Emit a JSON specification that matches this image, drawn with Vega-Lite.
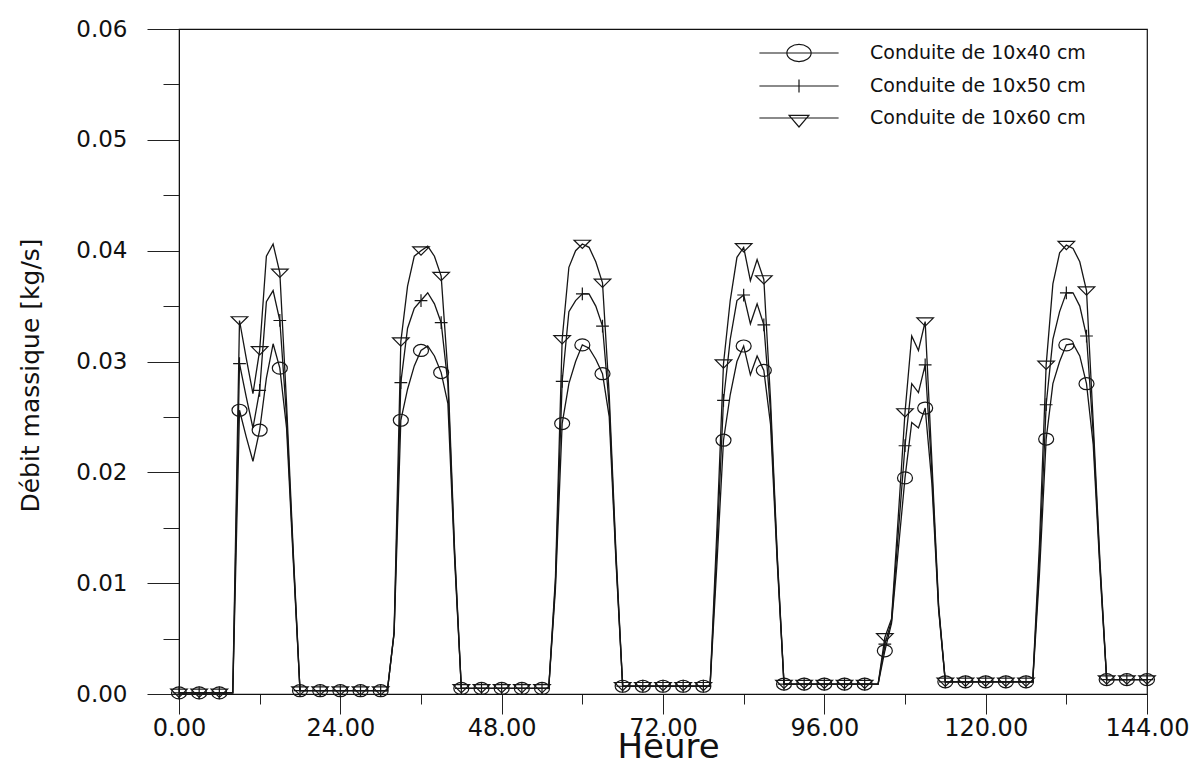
{
  "$schema": "https://vega.github.io/schema/vega-lite/v6.json",
  "width": 968,
  "height": 665,
  "autosize": "none",
  "padding": {"left": 179, "top": 29, "right": 55, "bottom": 71},
  "background": "white",
  "config": {
    "view": {"stroke": "#111", "strokeWidth": 1.2},
    "font": "DejaVu Sans",
    "axis": {"grid": false, "domainColor": "#111", "tickColor": "#222", "labelColor": "#111", "titleColor": "#111", "titleFontWeight": "normal", "labelFont": "DejaVu Sans", "titleFont": "DejaVu Sans", "labelFlush": false, "labelOverlap": false}
  },
  "data": {
    "values": [
      {"h": 0, "Conduite de 10x40 cm": 0.0001, "Conduite de 10x50 cm": 0.0001, "Conduite de 10x60 cm": 0.0001},
      {"h": 3, "Conduite de 10x40 cm": 0.0001, "Conduite de 10x50 cm": 0.0001, "Conduite de 10x60 cm": 0.0001},
      {"h": 6, "Conduite de 10x40 cm": 0.0001, "Conduite de 10x50 cm": 0.0001, "Conduite de 10x60 cm": 0.0001},
      {"h": 8, "Conduite de 10x40 cm": 0.0001, "Conduite de 10x50 cm": 0.0001, "Conduite de 10x60 cm": 0.0001},
      {"h": 9, "Conduite de 10x40 cm": 0.0256, "Conduite de 10x50 cm": 0.0298, "Conduite de 10x60 cm": 0.0337},
      {"h": 10, "Conduite de 10x40 cm": 0.0232, "Conduite de 10x50 cm": 0.0268, "Conduite de 10x60 cm": 0.0303},
      {"h": 11, "Conduite de 10x40 cm": 0.0210, "Conduite de 10x50 cm": 0.0240, "Conduite de 10x60 cm": 0.0271},
      {"h": 12, "Conduite de 10x40 cm": 0.0238, "Conduite de 10x50 cm": 0.0274, "Conduite de 10x60 cm": 0.0310},
      {"h": 13, "Conduite de 10x40 cm": 0.0285, "Conduite de 10x50 cm": 0.0354, "Conduite de 10x60 cm": 0.0395},
      {"h": 14, "Conduite de 10x40 cm": 0.0316, "Conduite de 10x50 cm": 0.0364, "Conduite de 10x60 cm": 0.0406},
      {"h": 15, "Conduite de 10x40 cm": 0.0294, "Conduite de 10x50 cm": 0.0337, "Conduite de 10x60 cm": 0.0380},
      {"h": 16, "Conduite de 10x40 cm": 0.0240, "Conduite de 10x50 cm": 0.0250, "Conduite de 10x60 cm": 0.0262},
      {"h": 17, "Conduite de 10x40 cm": 0.0120, "Conduite de 10x50 cm": 0.0124, "Conduite de 10x60 cm": 0.0128},
      {"h": 18, "Conduite de 10x40 cm": 0.0003, "Conduite de 10x50 cm": 0.0003, "Conduite de 10x60 cm": 0.0003},
      {"h": 21, "Conduite de 10x40 cm": 0.0003, "Conduite de 10x50 cm": 0.0003, "Conduite de 10x60 cm": 0.0003},
      {"h": 24, "Conduite de 10x40 cm": 0.0003, "Conduite de 10x50 cm": 0.0003, "Conduite de 10x60 cm": 0.0003},
      {"h": 27, "Conduite de 10x40 cm": 0.0003, "Conduite de 10x50 cm": 0.0003, "Conduite de 10x60 cm": 0.0003},
      {"h": 30, "Conduite de 10x40 cm": 0.0003, "Conduite de 10x50 cm": 0.0003, "Conduite de 10x60 cm": 0.0003},
      {"h": 31, "Conduite de 10x40 cm": 0.0003, "Conduite de 10x50 cm": 0.0003, "Conduite de 10x60 cm": 0.0003},
      {"h": 32, "Conduite de 10x40 cm": 0.0055, "Conduite de 10x50 cm": 0.0055, "Conduite de 10x60 cm": 0.0056},
      {"h": 33, "Conduite de 10x40 cm": 0.0247, "Conduite de 10x50 cm": 0.0281, "Conduite de 10x60 cm": 0.0318},
      {"h": 34, "Conduite de 10x40 cm": 0.0275, "Conduite de 10x50 cm": 0.0330, "Conduite de 10x60 cm": 0.0368},
      {"h": 35, "Conduite de 10x40 cm": 0.0296, "Conduite de 10x50 cm": 0.0348, "Conduite de 10x60 cm": 0.0395},
      {"h": 36, "Conduite de 10x40 cm": 0.0310, "Conduite de 10x50 cm": 0.0355, "Conduite de 10x60 cm": 0.0400},
      {"h": 37, "Conduite de 10x40 cm": 0.0314, "Conduite de 10x50 cm": 0.0362, "Conduite de 10x60 cm": 0.0404},
      {"h": 38, "Conduite de 10x40 cm": 0.0305, "Conduite de 10x50 cm": 0.0352, "Conduite de 10x60 cm": 0.0395},
      {"h": 39, "Conduite de 10x40 cm": 0.0290, "Conduite de 10x50 cm": 0.0335, "Conduite de 10x60 cm": 0.0377},
      {"h": 40, "Conduite de 10x40 cm": 0.0262, "Conduite de 10x50 cm": 0.0280, "Conduite de 10x60 cm": 0.0290},
      {"h": 41, "Conduite de 10x40 cm": 0.0122, "Conduite de 10x50 cm": 0.0126, "Conduite de 10x60 cm": 0.0130},
      {"h": 42, "Conduite de 10x40 cm": 0.0005, "Conduite de 10x50 cm": 0.0005, "Conduite de 10x60 cm": 0.0005},
      {"h": 45, "Conduite de 10x40 cm": 0.0005, "Conduite de 10x50 cm": 0.0005, "Conduite de 10x60 cm": 0.0005},
      {"h": 48, "Conduite de 10x40 cm": 0.0005, "Conduite de 10x50 cm": 0.0005, "Conduite de 10x60 cm": 0.0005},
      {"h": 51, "Conduite de 10x40 cm": 0.0005, "Conduite de 10x50 cm": 0.0005, "Conduite de 10x60 cm": 0.0005},
      {"h": 54, "Conduite de 10x40 cm": 0.0005, "Conduite de 10x50 cm": 0.0005, "Conduite de 10x60 cm": 0.0005},
      {"h": 55, "Conduite de 10x40 cm": 0.0005, "Conduite de 10x50 cm": 0.0005, "Conduite de 10x60 cm": 0.0005},
      {"h": 56, "Conduite de 10x40 cm": 0.0095, "Conduite de 10x50 cm": 0.0100, "Conduite de 10x60 cm": 0.0105},
      {"h": 57, "Conduite de 10x40 cm": 0.0244, "Conduite de 10x50 cm": 0.0282, "Conduite de 10x60 cm": 0.0320},
      {"h": 58, "Conduite de 10x40 cm": 0.0280, "Conduite de 10x50 cm": 0.0345, "Conduite de 10x60 cm": 0.0385},
      {"h": 59, "Conduite de 10x40 cm": 0.0300, "Conduite de 10x50 cm": 0.0355, "Conduite de 10x60 cm": 0.0400},
      {"h": 60, "Conduite de 10x40 cm": 0.0315, "Conduite de 10x50 cm": 0.0361, "Conduite de 10x60 cm": 0.0406},
      {"h": 61, "Conduite de 10x40 cm": 0.0312, "Conduite de 10x50 cm": 0.0361, "Conduite de 10x60 cm": 0.0403},
      {"h": 62, "Conduite de 10x40 cm": 0.0302, "Conduite de 10x50 cm": 0.0350, "Conduite de 10x60 cm": 0.0390},
      {"h": 63, "Conduite de 10x40 cm": 0.0289, "Conduite de 10x50 cm": 0.0332, "Conduite de 10x60 cm": 0.0371},
      {"h": 64, "Conduite de 10x40 cm": 0.0250, "Conduite de 10x50 cm": 0.0260, "Conduite de 10x60 cm": 0.0270},
      {"h": 65, "Conduite de 10x40 cm": 0.0120, "Conduite de 10x50 cm": 0.0124, "Conduite de 10x60 cm": 0.0128},
      {"h": 66, "Conduite de 10x40 cm": 0.0007, "Conduite de 10x50 cm": 0.0007, "Conduite de 10x60 cm": 0.0007},
      {"h": 69, "Conduite de 10x40 cm": 0.0007, "Conduite de 10x50 cm": 0.0007, "Conduite de 10x60 cm": 0.0007},
      {"h": 72, "Conduite de 10x40 cm": 0.0007, "Conduite de 10x50 cm": 0.0007, "Conduite de 10x60 cm": 0.0007},
      {"h": 75, "Conduite de 10x40 cm": 0.0007, "Conduite de 10x50 cm": 0.0007, "Conduite de 10x60 cm": 0.0007},
      {"h": 78, "Conduite de 10x40 cm": 0.0007, "Conduite de 10x50 cm": 0.0007, "Conduite de 10x60 cm": 0.0007},
      {"h": 79, "Conduite de 10x40 cm": 0.0007, "Conduite de 10x50 cm": 0.0007, "Conduite de 10x60 cm": 0.0007},
      {"h": 80, "Conduite de 10x40 cm": 0.0115, "Conduite de 10x50 cm": 0.0130, "Conduite de 10x60 cm": 0.0145},
      {"h": 81, "Conduite de 10x40 cm": 0.0229, "Conduite de 10x50 cm": 0.0265, "Conduite de 10x60 cm": 0.0298},
      {"h": 82, "Conduite de 10x40 cm": 0.0270, "Conduite de 10x50 cm": 0.0320, "Conduite de 10x60 cm": 0.0355},
      {"h": 83, "Conduite de 10x40 cm": 0.0300, "Conduite de 10x50 cm": 0.0355, "Conduite de 10x60 cm": 0.0394},
      {"h": 84, "Conduite de 10x40 cm": 0.0314, "Conduite de 10x50 cm": 0.0360, "Conduite de 10x60 cm": 0.0403},
      {"h": 85, "Conduite de 10x40 cm": 0.0288, "Conduite de 10x50 cm": 0.0334, "Conduite de 10x60 cm": 0.0373},
      {"h": 86, "Conduite de 10x40 cm": 0.0305, "Conduite de 10x50 cm": 0.0352, "Conduite de 10x60 cm": 0.0392},
      {"h": 87, "Conduite de 10x40 cm": 0.0292, "Conduite de 10x50 cm": 0.0333, "Conduite de 10x60 cm": 0.0374},
      {"h": 88, "Conduite de 10x40 cm": 0.0243, "Conduite de 10x50 cm": 0.0255, "Conduite de 10x60 cm": 0.0265},
      {"h": 89, "Conduite de 10x40 cm": 0.0118, "Conduite de 10x50 cm": 0.0122, "Conduite de 10x60 cm": 0.0125},
      {"h": 90, "Conduite de 10x40 cm": 0.0009, "Conduite de 10x50 cm": 0.0009, "Conduite de 10x60 cm": 0.0009},
      {"h": 93, "Conduite de 10x40 cm": 0.0009, "Conduite de 10x50 cm": 0.0009, "Conduite de 10x60 cm": 0.0009},
      {"h": 96, "Conduite de 10x40 cm": 0.0009, "Conduite de 10x50 cm": 0.0009, "Conduite de 10x60 cm": 0.0009},
      {"h": 99, "Conduite de 10x40 cm": 0.0009, "Conduite de 10x50 cm": 0.0009, "Conduite de 10x60 cm": 0.0009},
      {"h": 102, "Conduite de 10x40 cm": 0.0009, "Conduite de 10x50 cm": 0.0009, "Conduite de 10x60 cm": 0.0009},
      {"h": 104, "Conduite de 10x40 cm": 0.0009, "Conduite de 10x50 cm": 0.0009, "Conduite de 10x60 cm": 0.0009},
      {"h": 105, "Conduite de 10x40 cm": 0.0039, "Conduite de 10x50 cm": 0.0045, "Conduite de 10x60 cm": 0.0051},
      {"h": 106, "Conduite de 10x40 cm": 0.0064, "Conduite de 10x50 cm": 0.0066, "Conduite de 10x60 cm": 0.0068},
      {"h": 107, "Conduite de 10x40 cm": 0.0130, "Conduite de 10x50 cm": 0.0145, "Conduite de 10x60 cm": 0.0160},
      {"h": 108, "Conduite de 10x40 cm": 0.0195, "Conduite de 10x50 cm": 0.0224, "Conduite de 10x60 cm": 0.0254},
      {"h": 109, "Conduite de 10x40 cm": 0.0245, "Conduite de 10x50 cm": 0.0280, "Conduite de 10x60 cm": 0.0323},
      {"h": 110, "Conduite de 10x40 cm": 0.0240, "Conduite de 10x50 cm": 0.0272, "Conduite de 10x60 cm": 0.0310},
      {"h": 111, "Conduite de 10x40 cm": 0.0258, "Conduite de 10x50 cm": 0.0297, "Conduite de 10x60 cm": 0.0336},
      {"h": 112, "Conduite de 10x40 cm": 0.0190, "Conduite de 10x50 cm": 0.0200, "Conduite de 10x60 cm": 0.0210},
      {"h": 113, "Conduite de 10x40 cm": 0.0076, "Conduite de 10x50 cm": 0.0078, "Conduite de 10x60 cm": 0.0080},
      {"h": 114, "Conduite de 10x40 cm": 0.0011, "Conduite de 10x50 cm": 0.0011, "Conduite de 10x60 cm": 0.0011},
      {"h": 117, "Conduite de 10x40 cm": 0.0011, "Conduite de 10x50 cm": 0.0011, "Conduite de 10x60 cm": 0.0011},
      {"h": 120, "Conduite de 10x40 cm": 0.0011, "Conduite de 10x50 cm": 0.0011, "Conduite de 10x60 cm": 0.0011},
      {"h": 123, "Conduite de 10x40 cm": 0.0011, "Conduite de 10x50 cm": 0.0011, "Conduite de 10x60 cm": 0.0011},
      {"h": 126, "Conduite de 10x40 cm": 0.0011, "Conduite de 10x50 cm": 0.0011, "Conduite de 10x60 cm": 0.0011},
      {"h": 127, "Conduite de 10x40 cm": 0.0011, "Conduite de 10x50 cm": 0.0011, "Conduite de 10x60 cm": 0.0011},
      {"h": 128, "Conduite de 10x40 cm": 0.0108, "Conduite de 10x50 cm": 0.0120, "Conduite de 10x60 cm": 0.0135},
      {"h": 129, "Conduite de 10x40 cm": 0.0230, "Conduite de 10x50 cm": 0.0261, "Conduite de 10x60 cm": 0.0297},
      {"h": 130, "Conduite de 10x40 cm": 0.0280, "Conduite de 10x50 cm": 0.0320, "Conduite de 10x60 cm": 0.0370},
      {"h": 131, "Conduite de 10x40 cm": 0.0300, "Conduite de 10x50 cm": 0.0345, "Conduite de 10x60 cm": 0.0398},
      {"h": 132, "Conduite de 10x40 cm": 0.0315, "Conduite de 10x50 cm": 0.0362, "Conduite de 10x60 cm": 0.0405},
      {"h": 133, "Conduite de 10x40 cm": 0.0316, "Conduite de 10x50 cm": 0.0362, "Conduite de 10x60 cm": 0.0402},
      {"h": 134, "Conduite de 10x40 cm": 0.0305, "Conduite de 10x50 cm": 0.0350, "Conduite de 10x60 cm": 0.0390},
      {"h": 135, "Conduite de 10x40 cm": 0.0280, "Conduite de 10x50 cm": 0.0323, "Conduite de 10x60 cm": 0.0364},
      {"h": 136, "Conduite de 10x40 cm": 0.0225, "Conduite de 10x50 cm": 0.0235, "Conduite de 10x60 cm": 0.0245},
      {"h": 137, "Conduite de 10x40 cm": 0.0112, "Conduite de 10x50 cm": 0.0116, "Conduite de 10x60 cm": 0.0120},
      {"h": 138, "Conduite de 10x40 cm": 0.0013, "Conduite de 10x50 cm": 0.0013, "Conduite de 10x60 cm": 0.0013},
      {"h": 141, "Conduite de 10x40 cm": 0.0013, "Conduite de 10x50 cm": 0.0013, "Conduite de 10x60 cm": 0.0013},
      {"h": 144, "Conduite de 10x40 cm": 0.0013, "Conduite de 10x50 cm": 0.0013, "Conduite de 10x60 cm": 0.0013}
    ]
  },
  "transform": [
    {"fold": ["Conduite de 10x40 cm", "Conduite de 10x50 cm", "Conduite de 10x60 cm"], "as": ["serie", "v"]}
  ],
  "encoding": {
    "x": {
      "field": "h",
      "type": "quantitative",
      "scale": {"domain": [0, 144], "nice": false, "zero": false},
      "axis": {
        "values": [0, 12, 24, 36, 48, 60, 72, 84, 96, 108, 120, 132, 144],
        "labelExpr": "datum.value % 24 == 0 ? format(datum.value, '.2f') : ''",
        "tickSize": {"expr": "datum.value % 24 == 0 ? 20 : 10"},
        "labelPadding": 2,
        "labelFontSize": 24,
        "title": "Heure",
        "titleFontSize": 34,
        "titleX": 489,
        "titleY": 63,
        "titleAlign": "center",
        "titleBaseline": "alphabetic"
      }
    },
    "y": {
      "field": "v",
      "type": "quantitative",
      "scale": {"domain": [0, 0.06], "nice": false},
      "axis": {
        "values": [0, 0.005, 0.01, 0.015, 0.02, 0.025, 0.03, 0.035, 0.04, 0.045, 0.05, 0.055, 0.06],
        "labelExpr": "round(datum.value * 200) % 2 == 0 ? format(datum.value, '.2f') : ''",
        "tickSize": {"expr": "round(datum.value * 200) % 2 == 0 ? 32 : 16"},
        "labelPadding": 20,
        "labelFontSize": 23,
        "title": "Débit massique [kg/s]",
        "titleFontSize": 25,
        "titleX": -149,
        "titleY": 346,
        "titleAlign": "center",
        "titleBaseline": "middle",
        "titleAngle": -90
      }
    }
  },
  "layer": [
    {
      "mark": {"type": "line", "color": "#161616", "strokeWidth": 1.3},
      "encoding": {"detail": {"field": "serie"}, "order": {"field": "h"}}
    },
    {
      "transform": [{"filter": "datum.h % 3 == 0"}],
      "mark": {"type": "point", "filled": false, "color": "#161616", "strokeWidth": 1.2, "size": 225, "opacity": 1},
      "encoding": {
        "shape": {
          "field": "serie",
          "type": "nominal",
          "scale": {
            "domain": ["Conduite de 10x40 cm", "Conduite de 10x50 cm", "Conduite de 10x60 cm"],
            "range": [
              "M-1,0C-1,-0.442,-0.552,-0.8,0,-0.8C0.552,-0.8,1,-0.442,1,0C1,0.442,0.552,0.8,0,0.8C-0.552,0.8,-1,0.442,-1,0Z",
              "M-0.85,0L0.85,0M0,-0.85L0,0.85",
              "M-1.1,-0.5L1.1,-0.5L0,0.6Z"
            ]
          },
          "legend": null
        }
      }
    },
    {
      "transform": [{"filter": "datum.h == 0"}],
      "mark": {"type": "point", "filled": false, "color": "#161616", "strokeWidth": 1.2, "size": 0},
      "encoding": {
        "shape": {
          "field": "serie",
          "type": "nominal",
          "scale": {
            "domain": ["Conduite de 10x40 cm", "Conduite de 10x50 cm", "Conduite de 10x60 cm"],
            "range": [
              "M-4.4,0L4.4,0M-1.35,0C-1.35,-0.525,-0.746,-0.95,0,-0.95C0.746,-0.95,1.35,-0.525,1.35,0C1.35,0.525,0.746,0.95,0,0.95C-0.746,0.95,-1.35,0.525,-1.35,0Z",
              "M-4.4,0L4.4,0M0,-0.72L0,0.72",
              "M-4.4,0L4.4,0M-1.1,-0.3L1.1,-0.3L0,1Z"
            ]
          },
          "legend": {
            "title": null,
            "orient": "none",
            "legendX": 610,
            "legendY": 14,
            "symbolSize": 324,
            "labelOffset": 61,
            "labelLimit": 400,
            "rowPadding": 12,
            "labelFont": "DejaVu Sans",
            "labelFontSize": 19,
            "labelColor": "#111",
            "symbolStrokeColor": "#161616",
            "symbolStrokeWidth": 1.2,
            "symbolFillColor": "transparent",
            "symbolOpacity": 1,
            "encode": {"symbols": {"update": {"size": {"value": 324}, "opacity": {"value": 1}}}}
          }
        }
      }
    }
  ],
  "resolve": {"scale": {"shape": "independent"}}
}
